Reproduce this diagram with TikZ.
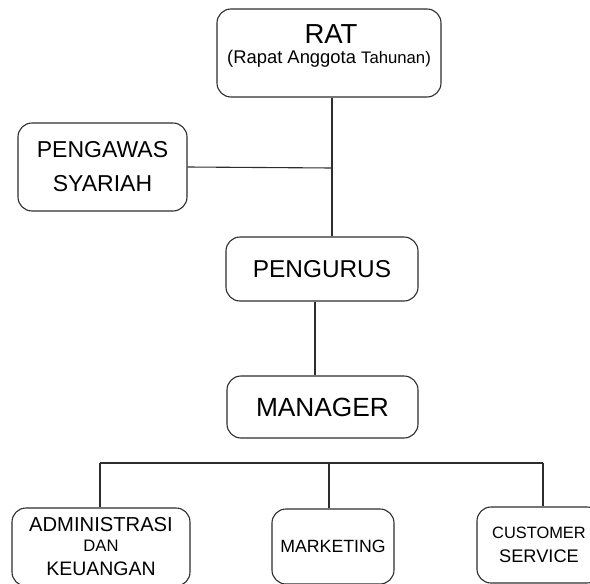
\documentclass[tikz,border=0pt]{standalone}
\usepackage{fontspec}
\setmainfont{Liberation Sans}
\usepackage{xcolor}
\definecolor{garis}{RGB}{45,45,45}

\begin{document}
\begin{tikzpicture}[x=1pt, y=-1pt,
    kotak/.style={draw=garis, line width=1.1pt, rounded corners=14pt,
        align=center, inner sep=0pt, text=black},
    hubung/.style={draw=garis, line width=1.1pt},
    teks/.style={align=center, inner sep=0pt},
]

\useasboundingbox (0,0) rectangle (590,584);

%% --- RAT ---
\node[kotak, minimum width=224pt, minimum height=88pt] (rat) at (329,53) {};
\node[teks, font=\fontsize{27.5}{28}\selectfont, anchor=base] (rattitle) at (331,43) {RAT};
\node[teks, font=\fontsize{18.4}{19}\selectfont, anchor=base] (ratsub) at (329,63)
    {(Rapat Anggota {\fontsize{16.7}{17}\selectfont Tahunan)}};

%% --- pengawas syariah ---
\node[kotak, minimum width=169pt, minimum height=88pt,
    font=\fontsize{23}{34}\selectfont] (pengawas) at (102.5,167) {PENGAWAS\\SYARIAH};

%% --- pengurus ---
\node[kotak, minimum width=192pt, minimum height=64pt,
    font=\fontsize{24.4}{25}\selectfont] (pengurus) at (322,269) {PENGURUS};

%% --- manager ---
\node[kotak, minimum width=191pt, minimum height=62pt,
    font=\fontsize{26.3}{27}\selectfont] (manager) at (322.5,407) {MANAGER};

%% --- bagian bawah ---
\node[kotak, minimum width=178pt, minimum height=78pt,
    font=\fontsize{20.2}{20}\selectfont] (admin) at (101,547)
    {ADMINISTRASI\\
     {\fontsize{16.6}{20}\selectfont DAN}\\[4pt]
     {\fontsize{19.5}{20}\selectfont KEUANGAN}};
\node[kotak, minimum width=122pt, minimum height=75pt,
    font=\fontsize{17.7}{18}\selectfont] (marketing) at (333,546.5) {MARKETING};
\node[kotak, minimum width=124pt, minimum height=76pt,
    font=\fontsize{16.4}{24}\selectfont] (cs) at (539,545)
    {CUSTOMER\\
     {\fontsize{18.2}{24}\selectfont SERVICE}};

%% --- garis rat -> pengurus, cabang pengawas ---
\coordinate (cabang) at (332,168);
\draw[hubung] (rat.south -| cabang) -- (pengurus.north -| cabang);
\draw[hubung] (pengawas.east) -- (cabang);

%% --- pengurus -> manager ---
\coordinate (turun) at (315,300);
\draw[hubung] (pengurus.south -| turun) -- (manager.north -| turun);

%% --- garis bus ke bawah ---
\coordinate (busL) at (100,463);
\coordinate (busM) at (329,463);
\coordinate (busR) at (543,463);
\draw[hubung] (busL) -- (busR);
\draw[hubung] (busL) -- (admin.north -| busL);
\draw[hubung] (busM) -- (marketing.north -| busM);
\draw[hubung] (busR) -- (cs.north -| busR);

\end{tikzpicture}
\end{document}
